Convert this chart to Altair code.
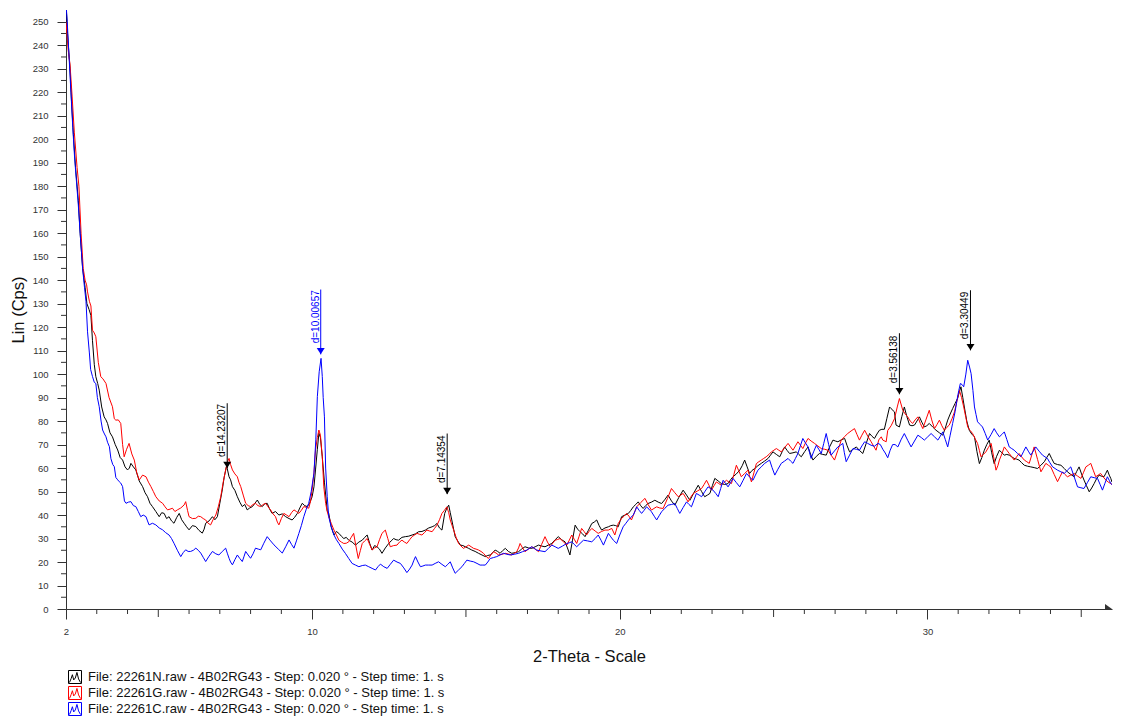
import altair as alt
import pandas as pd

FONT = "Liberation Sans"

series_names = [
    "File: 22261N.raw - 4B02RG43 - Step: 0.020 ° - Step time: 1. s",
    "File: 22261G.raw - 4B02RG43 - Step: 0.020 ° - Step time: 1. s",
    "File: 22261C.raw - 4B02RG43 - Step: 0.020 ° - Step time: 1. s",
]
series_colors = ["#000000", "#ff0000", "#0000ff"]

black_pts = [(2.00,258),(2.05,245),(2.13,230),(2.18,216),(2.24,202),(2.31,188),(2.40,174),(2.46,160),(2.54,145),(2.62,137),(2.68,130),(2.75,127.5),(2.81,125),(2.86,114.4),(2.92,104),(2.97,98.9),(3.03,96),(3.08,93.2),(3.16,86),(3.24,81.8),(3.30,80.5),(3.35,79),(3.43,75),(3.51,73.3),(3.60,70),(3.68,67.7),(3.76,64.5),(3.84,63.4),(3.92,60.5),(4.00,59.2),(4.06,60),(4.11,62),(4.19,60.5),(4.27,59.2),(4.38,54.5),(4.49,52.1),(4.57,49.5),(4.65,47.8),(4.73,45),(4.81,43.6),(4.92,41.5),(5.03,39.3),(5.11,41),(5.19,40.7),(5.27,38.5),(5.35,39.3),(5.43,37.5),(5.51,36.5),(5.60,39),(5.68,40.7),(5.76,38),(5.84,36.5),(5.92,35),(6.00,33.7),(6.11,35.5),(6.22,35.1),(6.32,33.5),(6.43,32.3),(6.49,34),(6.54,36.5),(6.65,37.5),(6.76,39.3),(6.84,38),(6.92,39.3),(7.00,45),(7.08,50.7),(7.14,56),(7.22,61),(7.30,56.3),(7.35,55),(7.41,52.1),(7.49,50.5),(7.57,47.8),(7.65,45.5),(7.73,43.6),(7.81,44.5),(7.89,42.2),(7.97,43),(8.06,43.6),(8.14,45),(8.22,46.4),(8.30,44.5),(8.38,43.6),(8.46,44.8),(8.54,45),(8.62,42.5),(8.70,40.7),(8.81,41.5),(8.92,40),(9.03,40.5),(9.14,39.3),(9.25,38.5),(9.35,37.9),(9.43,39),(9.52,40.7),(9.60,43),(9.68,45),(9.76,44),(9.84,43.6),(9.92,45),(10.00,47.8),(10.06,52),(10.11,59.2),(10.17,68),(10.22,74.8),(10.27,73),(10.33,64.8),(10.40,54),(10.49,42),(10.54,40.7),(10.62,35),(10.71,31.5),(10.79,33),(10.87,32.2),(10.95,31),(11.03,30),(11.11,30.5),(11.19,29.3),(11.30,28.5),(11.41,27.2),(11.52,28.5),(11.63,29.3),(11.71,30.5),(11.79,31.5),(11.87,28),(11.95,25.1),(12.03,27),(12.11,26.5),(12.19,25.5),(12.27,23.7),(12.38,26),(12.49,27.9),(12.57,29),(12.65,30),(12.73,29.5),(12.81,29.3),(12.92,30.5),(13.03,30.8),(13.14,31),(13.25,31.5),(13.36,32),(13.46,32.9),(13.57,33),(13.68,33.6),(13.79,34.5),(13.90,35),(13.98,35.5),(14.06,36.4),(14.14,34.5),(14.22,33.6),(14.31,40.7),(14.38,43),(14.44,44.2),(14.49,41),(14.54,37.9),(14.60,34),(14.65,30.8),(14.73,29),(14.82,27.2),(14.90,27),(14.98,26.5),(15.09,25.8),(15.19,25.1),(15.30,24.5),(15.41,23.7),(15.52,23),(15.63,22.3),(15.71,22.8),(15.79,23),(15.87,24),(15.95,25.1),(16.03,24.5),(16.11,23.7),(16.19,24.8),(16.28,25.8),(16.38,24.5),(16.49,23.7),(16.60,24),(16.71,24.4),(16.81,25.5),(16.92,26.5),(17.03,26),(17.14,25.8),(17.25,26.5),(17.36,27.2),(17.46,26.8),(17.57,26.5),(17.68,27.2),(17.79,27.9),(17.90,29.5),(18.00,30.8),(18.11,29.5),(18.22,28.6),(18.30,26),(18.38,23),(18.46,29),(18.55,35.7),(18.63,34),(18.71,32.9),(18.79,32),(18.87,30.8),(18.98,33.5),(19.09,36.4),(19.17,37),(19.25,37.9),(19.33,35.5),(19.41,33.6),(19.52,34.5),(19.63,35),(19.71,35.5),(19.79,35.7),(19.87,35.5),(19.95,35),(20.06,39.3),(20.17,40),(20.28,40.7),(20.36,42),(20.44,43.5),(20.52,44.5),(20.60,45.6),(20.68,44),(20.76,42.8),(20.84,44),(20.92,44.9),(21.03,45.5),(21.14,46.3),(21.25,45.5),(21.36,44.9),(21.46,46.5),(21.57,48.5),(21.68,46),(21.79,44.2),(21.92,47.5),(22.06,50.6),(22.17,48.5),(22.28,46.3),(22.41,49.5),(22.55,52.7),(22.66,50),(22.76,47.8),(22.85,48.5),(22.93,49.2),(23.01,52.5),(23.09,55.6),(23.20,54.5),(23.30,53.4),(23.41,53),(23.52,53.4),(23.60,55),(23.68,56.3),(23.79,57.5),(23.90,59.1),(23.98,61),(24.06,63.4),(24.14,60.5),(24.22,57.7),(24.30,59),(24.39,59.8),(24.49,61),(24.60,62),(24.71,63),(24.82,64.1),(24.90,65.5),(24.98,66.9),(25.09,65.8),(25.20,64.8),(25.28,67),(25.36,69),(25.44,67.5),(25.52,66.2),(25.63,66.5),(25.74,66.9),(25.82,65.8),(25.90,64.8),(26.01,67),(26.12,69),(26.20,66),(26.28,63.4),(26.39,65),(26.49,66.2),(26.60,65.8),(26.71,65.5),(26.82,69),(26.93,71.9),(27.01,71.5),(27.09,71.2),(27.20,72),(27.31,72.6),(27.39,69.5),(27.47,66.9),(27.58,68),(27.69,69),(27.79,67.5),(27.90,66.2),(28.01,70.5),(28.12,74.7),(28.20,73.5),(28.28,72.6),(28.36,74.5),(28.44,76.1),(28.52,76.5),(28.60,76.5),(28.68,81),(28.77,86),(28.82,85.3),(28.93,83.9),(28.98,78.3),(29.09,77.5),(29.17,82),(29.25,86),(29.33,82),(29.42,78.3),(29.50,78),(29.58,78.3),(29.66,80),(29.74,81.8),(29.82,79.5),(29.90,77.5),(29.98,78),(30.06,79),(30.17,77.5),(30.28,76.1),(30.39,75),(30.50,74),(30.58,77),(30.66,80.4),(30.74,83),(30.82,85.3),(30.90,87.5),(30.98,89.6),(31.04,92.5),(31.09,94.6),(31.15,90),(31.20,86),(31.28,80),(31.36,76.1),(31.44,74.5),(31.53,73.3),(31.61,67),(31.69,61.9),(31.77,64.5),(31.85,67.6),(31.93,70),(32.01,71.9),(32.09,66.5),(32.17,61.9),(32.25,65),(32.34,67.6),(32.42,66.5),(32.50,65.5),(32.58,65.8),(32.66,65.5),(32.74,64.8),(32.82,64.1),(32.90,63.8),(32.98,63.4),(33.06,62.3),(33.15,61.2),(33.25,60.8),(33.36,60.5),(33.47,60.2),(33.58,59.8),(33.69,61.2),(33.80,62.7),(33.88,64.5),(33.96,66.2),(34.04,64),(34.12,62),(34.23,61.5),(34.34,61.2),(34.45,59.8),(34.55,58.4),(34.66,57.3),(34.77,56.3),(34.85,58.5),(34.93,60.5),(35.01,57.5),(35.09,54.9),(35.17,52.5),(35.26,49.9),(35.34,51.5),(35.42,53.4),(35.50,55.5),(35.58,57),(35.66,56.5),(35.74,56.3),(35.80,57.8),(35.85,59.1),(35.91,57),(35.96,55.6),(36.00,54)]

red_pts = [(2.00,250),(2.07,238),(2.13,232),(2.20,218),(2.27,203),(2.36,188),(2.42,180),(2.49,160),(2.56,145),(2.62,140),(2.67,138),(2.70,135),(2.76,131),(2.81,129),(2.86,118.7),(2.92,117.5),(2.97,115.9),(3.05,105),(3.13,98.9),(3.20,98),(3.30,96),(3.40,90),(3.51,86.1),(3.57,81),(3.62,80.4),(3.70,80.5),(3.78,79),(3.84,70),(3.89,64.8),(3.97,68),(4.05,70.5),(4.14,66),(4.22,63.4),(4.30,58),(4.38,54.9),(4.49,57),(4.60,56.3),(4.68,54),(4.76,52.1),(4.84,50),(4.92,47.8),(5.03,46),(5.14,45),(5.22,43.5),(5.30,42.2),(5.38,42.5),(5.46,42.9),(5.54,41.5),(5.62,42.2),(5.73,43),(5.84,44.3),(5.89,45.7),(5.95,42),(6.00,39.3),(6.11,38.5),(6.22,38.6),(6.30,39.5),(6.38,39.3),(6.46,38.5),(6.54,37.9),(6.62,36.5),(6.70,35.8),(6.78,38),(6.87,40),(6.95,43.5),(7.03,47.8),(7.11,54),(7.19,59.2),(7.26,63),(7.30,64.1),(7.35,61.5),(7.41,59.2),(7.49,57.5),(7.57,56.3),(7.62,54),(7.68,52.1),(7.76,48.5),(7.84,45),(7.92,44),(8.00,43.6),(8.08,44.5),(8.16,45),(8.24,44),(8.33,43.6),(8.41,44.5),(8.49,45),(8.57,43.5),(8.65,42.2),(8.73,40.5),(8.81,39.3),(8.87,37),(8.92,35.8),(9.00,38.5),(9.08,40.7),(9.17,40),(9.25,39.3),(9.33,41),(9.41,42.2),(9.49,41.5),(9.57,40.7),(9.65,42),(9.73,43.6),(9.81,43.3),(9.89,42.9),(9.95,46),(10.00,50.7),(10.06,58),(10.11,67.7),(10.17,73),(10.22,76.2),(10.27,74),(10.33,64.8),(10.38,52),(10.44,45),(10.49,41.5),(10.54,39.3),(10.62,36.5),(10.71,33.6),(10.79,31.5),(10.87,29.3),(10.95,28.5),(11.03,27.9),(11.11,28),(11.19,28.6),(11.27,30.5),(11.35,32.2),(11.42,27),(11.50,21.5),(11.57,25),(11.63,27.9),(11.71,29),(11.79,30),(11.87,27.5),(11.95,25.1),(12.03,26),(12.11,26.5),(12.19,29.5),(12.27,32.2),(12.38,33.6),(12.46,30),(12.54,26.5),(12.65,27),(12.76,27.2),(12.84,28.5),(12.92,29.3),(13.00,28.5),(13.08,27.9),(13.17,29.5),(13.25,30.8),(13.33,31.5),(13.41,32.2),(13.49,31.8),(13.57,31.5),(13.65,32.5),(13.73,33.6),(13.82,33.2),(13.90,32.9),(13.98,34.3),(14.06,35.7),(14.14,38),(14.22,40.7),(14.30,42),(14.38,43.5),(14.44,41),(14.49,37.9),(14.55,35.5),(14.60,33.6),(14.68,30.5),(14.76,27.9),(14.84,26.8),(14.92,25.8),(15.00,26.5),(15.09,27.2),(15.17,26.5),(15.25,25.8),(15.33,25.5),(15.41,25.1),(15.49,24.5),(15.57,23.7),(15.65,22.5),(15.73,21.5),(15.81,23),(15.90,24.4),(15.98,23.8),(16.06,23),(16.17,23.3),(16.28,23.7),(16.38,23.4),(16.49,23),(16.57,23.7),(16.65,24.4),(16.71,26),(16.76,27.9),(16.84,26),(16.92,24.4),(17.03,25.5),(17.14,26.5),(17.25,25.5),(17.36,24.4),(17.46,27.5),(17.57,30.8),(17.65,28.5),(17.74,26.5),(17.82,28),(17.90,29.3),(17.98,29.6),(18.06,30),(18.17,28.6),(18.28,27.2),(18.36,29.3),(18.44,31.5),(18.52,29.7),(18.60,27.9),(18.68,31),(18.76,34.3),(18.84,33),(18.92,31.5),(19.00,33),(19.09,34.3),(19.20,33.2),(19.30,32.2),(19.41,33),(19.52,33.6),(19.63,33.6),(19.74,34.3),(19.84,31.5),(19.95,36.4),(20.06,38.6),(20.14,39.5),(20.22,40.7),(20.30,39.5),(20.38,37.9),(20.46,40.5),(20.55,43.5),(20.68,45.3),(20.82,47.1),(20.92,44.5),(21.03,42.1),(21.11,42.8),(21.20,43.5),(21.30,43),(21.41,42.8),(21.55,47),(21.68,51.3),(21.79,49.5),(21.90,47.8),(21.98,48.5),(22.06,49.2),(22.14,47.5),(22.22,45.6),(22.30,47.5),(22.39,49.2),(22.52,50.2),(22.66,51.3),(22.74,53),(22.82,54.8),(22.90,52.7),(22.98,50.6),(23.06,52.4),(23.14,54.1),(23.22,53.4),(23.30,52.7),(23.38,53.8),(23.47,54.8),(23.55,54),(23.63,53.4),(23.71,57.3),(23.79,61.2),(23.87,58.8),(23.95,56.3),(24.06,57.7),(24.17,59.1),(24.22,56.5),(24.28,54.1),(24.36,58),(24.44,61.9),(24.52,62.7),(24.60,63.4),(24.68,64.1),(24.76,64.8),(24.85,65.8),(24.93,66.9),(25.01,67.6),(25.09,68.3),(25.17,67.6),(25.25,66.9),(25.36,68.7),(25.47,70.5),(25.55,69),(25.63,67.6),(25.71,69.4),(25.79,71.2),(25.87,69.8),(25.95,68.3),(26.03,70.5),(26.12,72.6),(26.22,71.5),(26.33,70.5),(26.44,69.4),(26.55,68.3),(26.66,68),(26.77,67.6),(26.87,65.5),(26.98,63.4),(27.09,67.6),(27.20,71.9),(27.30,73.3),(27.41,74.7),(27.52,75.8),(27.63,76.8),(27.71,74.3),(27.79,71.9),(27.87,74),(27.96,76.1),(28.06,73.6),(28.17,71.2),(28.25,69.4),(28.33,67.6),(28.42,72),(28.50,73.3),(28.55,71.9),(28.66,71.2),(28.71,76),(28.82,78),(28.93,81),(29.02,86),(29.09,89.6),(29.20,84.6),(29.28,83),(29.36,81.8),(29.44,80),(29.52,79),(29.60,80.5),(29.69,81.8),(29.77,79),(29.85,76.8),(29.95,80.5),(30.06,84.6),(30.14,80.5),(30.23,76.8),(30.31,78.5),(30.39,80.4),(30.47,78),(30.55,76.1),(30.63,77.3),(30.71,78.3),(30.80,81),(30.88,83.9),(30.96,88.5),(31.04,93.1),(31.11,90),(31.18,86),(31.25,81.5),(31.31,77.5),(31.39,76),(31.47,74.7),(31.55,72.5),(31.63,70.5),(31.69,67.5),(31.74,64.8),(31.82,65.8),(31.90,66.9),(31.98,68.7),(32.07,70.5),(32.15,65),(32.23,59.1),(32.29,61),(32.34,63.4),(32.42,66),(32.50,69),(32.58,67.6),(32.66,66.2),(32.74,64.8),(32.82,63.4),(32.90,64.8),(32.98,66.2),(33.06,64.8),(33.15,63.4),(33.23,62.7),(33.31,62),(33.39,65.5),(33.47,69),(33.58,63.7),(33.69,58.4),(33.77,60.2),(33.85,62),(33.93,61.2),(34.01,60.5),(34.12,57.3),(34.23,54.2),(34.31,56.3),(34.39,58.4),(34.47,57.3),(34.55,56.3),(34.66,57),(34.77,57.7),(34.88,56.6),(34.99,55.6),(35.07,58),(35.15,60.5),(35.23,61.2),(35.31,62),(35.39,59.1),(35.47,56.3),(35.55,57),(35.63,57.7),(35.71,56.3),(35.80,54.9),(35.88,54),(35.96,53.4),(36.00,53)]

blue_pts = [(2.00,258),(2.04,250),(2.10,235),(2.16,220),(2.22,205),(2.28,192),(2.34,182),(2.40,172),(2.46,160),(2.54,145),(2.60,137),(2.65,131),(2.70,118),(2.76,109),(2.80,102),(2.86,99),(2.92,96.5),(2.97,96),(3.02,90),(3.08,86.1),(3.14,80),(3.19,76.2),(3.25,74.5),(3.30,73.3),(3.35,71),(3.41,69.1),(3.46,64),(3.52,61.5),(3.57,60.6),(3.62,56),(3.68,55),(3.73,54.2),(3.78,53.6),(3.84,52.1),(3.90,46),(3.95,45),(4.03,45.5),(4.11,45.7),(4.19,44),(4.27,43.6),(4.35,41.5),(4.43,39.3),(4.51,40),(4.60,39.3),(4.65,37.5),(4.70,35.8),(4.81,36.5),(4.92,35.8),(5.03,34.5),(5.14,33.7),(5.24,32.5),(5.35,31.5),(5.43,30),(5.51,28),(5.62,25),(5.73,22.3),(5.81,24),(5.89,25.2),(5.97,24.5),(6.05,24.5),(6.14,25),(6.22,25.9),(6.30,25),(6.38,23.8),(6.46,22),(6.54,20.2),(6.65,22.5),(6.76,24.5),(6.87,23.5),(6.97,23),(7.08,24.5),(7.19,25.9),(7.25,23.5),(7.30,21.6),(7.35,20),(7.41,18.8),(7.49,21),(7.57,23),(7.65,21.5),(7.73,20.2),(7.79,22.5),(7.84,24.5),(7.92,23),(8.00,21.6),(8.08,23.5),(8.16,25.9),(8.25,25.5),(8.33,25.2),(8.43,28),(8.54,30.8),(8.65,29),(8.76,27.3),(8.90,25.5),(9.03,23.8),(9.14,26.5),(9.25,29.4),(9.33,27.5),(9.41,25.9),(9.49,29),(9.57,32.2),(9.65,35.5),(9.73,39.3),(9.81,42.5),(9.89,45),(9.97,50),(10.06,57.8),(10.12,72),(10.17,90.4),(10.23,101),(10.29,106.7),(10.33,99),(10.36,90),(10.40,81.8),(10.44,60),(10.49,48),(10.54,39.3),(10.62,35),(10.71,31.5),(10.79,29.5),(10.87,27.9),(10.98,25.5),(11.08,23.7),(11.19,21.5),(11.30,19.4),(11.41,18.7),(11.52,18),(11.63,18.5),(11.73,18.7),(11.84,18),(11.95,17.3),(12.06,16.6),(12.14,18),(12.22,19.1),(12.33,18),(12.44,17.3),(12.54,19),(12.65,20.8),(12.76,20),(12.87,19.4),(12.98,17.5),(13.08,15.5),(13.17,17),(13.25,18.7),(13.30,20.5),(13.36,22.3),(13.44,20),(13.52,18),(13.60,18.3),(13.68,18.7),(13.79,18.7),(13.90,18.7),(14.00,19.4),(14.11,20.1),(14.22,19),(14.33,18),(14.41,19),(14.49,20.1),(14.57,17.5),(14.65,15.2),(14.76,16.6),(14.87,18),(14.95,19.4),(15.03,20.8),(15.14,20.4),(15.25,20.1),(15.36,19.4),(15.46,18.7),(15.55,18.7),(15.63,18.7),(15.71,20),(15.79,21.5),(15.90,21.9),(16.00,22.3),(16.11,23),(16.22,23.7),(16.33,23.3),(16.44,23),(16.57,23.3),(16.71,23.7),(16.84,24.4),(16.98,25.1),(17.06,25.8),(17.14,26.5),(17.22,25.8),(17.30,25.1),(17.44,24.7),(17.57,24.4),(17.68,25.8),(17.79,27.2),(17.90,26.5),(18.00,25.8),(18.14,26.8),(18.28,27.9),(18.36,28.2),(18.44,28.6),(18.52,27.5),(18.60,26.5),(18.71,27.9),(18.82,29.3),(18.95,29),(19.09,28.6),(19.20,30),(19.30,31.5),(19.39,29.3),(19.47,27.2),(19.55,29.7),(19.63,32.2),(19.71,30.7),(19.79,29.3),(19.90,27.9),(20.00,31.5),(20.11,35),(20.20,36.5),(20.28,37.9),(20.36,39),(20.44,40),(20.50,41.8),(20.55,43.5),(20.63,42),(20.71,40.7),(20.79,42),(20.87,43.5),(20.95,42.5),(21.03,41.4),(21.12,39.5),(21.20,37.9),(21.28,39.7),(21.36,41.4),(21.46,42.8),(21.57,44.2),(21.68,44.5),(21.79,44.9),(21.87,42.8),(21.95,40.7),(22.06,43.2),(22.17,45.6),(22.25,44.5),(22.33,43.5),(22.41,46.3),(22.49,49.2),(22.58,48.5),(22.66,47.8),(22.76,49.9),(22.87,52),(22.95,51.3),(23.03,50.6),(23.12,49.2),(23.20,47.8),(23.28,51.3),(23.36,54.8),(23.44,53.4),(23.52,52),(23.60,53.8),(23.68,55.6),(23.79,53.8),(23.90,52),(24.01,54.8),(24.12,57.7),(24.22,56.2),(24.33,54.8),(24.41,57),(24.49,59.1),(24.60,60.5),(24.71,62),(24.79,62.7),(24.87,63.4),(24.95,60.2),(25.04,57),(25.14,59.5),(25.25,62),(25.36,63),(25.47,64.1),(25.55,63),(25.63,62),(25.71,64.1),(25.79,66.2),(25.87,69.4),(25.95,72.6),(26.03,70.8),(26.12,69),(26.17,66.5),(26.22,64.1),(26.30,66.9),(26.39,69.7),(26.47,68),(26.55,66.2),(26.63,70.5),(26.71,74.7),(26.79,70),(26.87,65.5),(26.98,67.3),(27.09,69),(27.17,69.7),(27.25,70.5),(27.30,66.5),(27.36,62.7),(27.47,65.5),(27.58,68.3),(27.69,68),(27.79,67.6),(27.87,69.4),(27.96,71.2),(28.06,70.5),(28.17,69.7),(28.28,69.3),(28.39,70.5),(28.47,70),(28.55,68),(28.63,66.4),(28.71,64.4),(28.79,67.6),(28.87,70),(28.95,70),(29.04,69),(29.14,72),(29.25,74.7),(29.36,71.8),(29.47,69),(29.58,71.5),(29.69,74),(29.80,73),(29.90,71.9),(30.01,73.3),(30.12,74.7),(30.23,73.3),(30.34,71.9),(30.42,73.6),(30.50,75.4),(30.58,72.2),(30.66,69),(30.74,74),(30.82,79),(30.90,84),(30.96,88.9),(31.02,93),(31.07,96),(31.13,95.5),(31.18,94.6),(31.25,100),(31.31,105.9),(31.37,103),(31.42,100.2),(31.48,93),(31.53,86),(31.58,82.8),(31.63,79.7),(31.71,78.6),(31.79,77.5),(31.88,74.7),(31.96,71.9),(32.07,74.3),(32.17,76.8),(32.25,75),(32.34,73.3),(32.42,74.3),(32.50,75.4),(32.58,72.2),(32.66,69),(32.74,68.3),(32.82,67.6),(32.93,66.2),(33.04,64.8),(33.12,66.9),(33.20,69),(33.28,67.2),(33.36,65.5),(33.44,67.2),(33.52,69),(33.63,67.2),(33.74,65.5),(33.82,64.8),(33.90,64.1),(33.98,62.3),(34.07,60.5),(34.15,59.8),(34.23,59.1),(34.34,58.4),(34.45,57.7),(34.55,59.1),(34.66,60.5),(34.77,56.3),(34.88,52),(34.99,51.6),(35.09,51.3),(35.20,53.8),(35.31,56.3),(35.42,55.9),(35.53,55.6),(35.61,53.1),(35.69,50.6),(35.77,53.5),(35.85,56.3),(35.91,54.8),(35.96,53.4),(36.00,53)]

peak_labels = ["d=14.23207", "d=10.00657", "d=7.14354", "d=3.56138", "d=3.30449"]
peak_theta = [7.24, 10.28, 14.39, 29.09, 31.40]
peak_tip = [60.0, 108.4, 48.9, 91.4, 110.1]
peak_top = [87.6, 136.0, 74.7, 117.4, 135.7]
peak_colors = ["#000000", "#0000ff", "#000000", "#000000", "#000000"]

x_label_ticks = [2, 10, 20, 30]
x_mid_ticks = [5, 15, 25, 35]
x_minor_ticks = [v for v in range(3, 36) if v % 5 != 0]
y_label_ticks = list(range(0, 251, 10))
y_minor_ticks = list(range(5, 251, 10))

X_DOMAIN = [2, 36]
Y_DOMAIN = [0, 255]
W, H = 1046, 599

rows = []
for name, pts in zip(series_names, [black_pts, red_pts, blue_pts]):
    for i, (t, c) in enumerate(pts):
        rows.append({"theta": t, "cps": c, "series": name, "idx": i})
lines_df = pd.DataFrame(rows)

xs = alt.Scale(domain=X_DOMAIN, nice=False, zero=False)
ys = alt.Scale(domain=Y_DOMAIN, nice=False, zero=False)

x_axis = alt.Axis(
    values=x_label_ticks, tickSize=10, labelPadding=7.5, labelFontSize=9.5,
    labelFont=FONT, labelColor="#333", labelFlush=False, labelOverlap=False,
    format="d", grid=False, domainColor="#333", tickColor="#333",
    title="2-Theta - Scale", titleFont=FONT, titleFontSize=16.5,
    titleFontWeight="normal", titleColor="#111", titleY=47, titleBaseline="middle")
y_axis = alt.Axis(
    values=y_label_ticks, tickSize=9, labelPadding=9, labelFontSize=9.5,
    labelFont=FONT, labelColor="#333", labelFlush=False, labelOverlap=False,
    format="d", grid=False, domainColor="#333", tickColor="#333",
    title="Lin (Cps)", titleFont=FONT, titleFontSize=16.5, titleFontWeight="normal",
    titleColor="#111", titleX=-48, titleBaseline="middle")

legend_icon = ("M-1,-1H1V1H-1Z M-0.85,0.85L-0.6,0.25L-0.4,-0.35L-0.2,0.45L0.05,0.15"
               "L0.3,-0.7L0.55,0.3L0.85,0.85")

X = lambda f="theta:Q": alt.X(f, scale=xs, axis=x_axis)
Y = lambda f="cps:Q": alt.Y(f, scale=ys, axis=y_axis)

lines = alt.Chart(lines_df).mark_line(strokeWidth=1, clip=True).encode(
    x=X(), y=Y(),
    color=alt.Color("series:N", sort=series_names,
                    scale=alt.Scale(domain=series_names, range=series_colors),
                    legend=alt.Legend(title=None, orient="none", legendX=2, legendY=660,
                                      symbolType=legend_icon, symbolSize=169,
                                      symbolStrokeWidth=1, symbolFillColor="transparent",
                                      labelFont=FONT, labelFontSize=13, labelColor="#111",
                                      labelOffset=6, rowPadding=-4.5, padding=0,
                                      labelLimit=0)),
    order=alt.Order("idx:Q"),
)

xminor = alt.Chart(pd.DataFrame({"theta": x_minor_ticks})).mark_rule(
    color="#333", strokeWidth=1).encode(x=X(), y=alt.value(H), y2=alt.value(H + 5))
xmid = alt.Chart(pd.DataFrame({"theta": x_mid_ticks})).mark_rule(
    color="#333", strokeWidth=1).encode(x=X(), y=alt.value(H), y2=alt.value(H + 8))
yminor = alt.Chart(pd.DataFrame({"cps": y_minor_ticks})).mark_rule(
    color="#333", strokeWidth=1).encode(y=Y(), x=alt.value(-5), x2=alt.value(0))

axis_arrow = alt.Chart(pd.DataFrame({"theta": [X_DOMAIN[1]], "cps": [Y_DOMAIN[0]]})).mark_point(
    shape="M-1.75,-1.25L0,0L-1.75,0Z", filled=True, size=64, color="#333", opacity=1).encode(
    x=X(), y=Y())

peaks_df = pd.DataFrame({"theta": peak_theta, "cps": peak_tip, "cps2": peak_top,
                         "label": peak_labels, "col": peak_colors})
peaks_df["textpos"] = peaks_df["cps"] + 4.7

peak_rules = alt.Chart(peaks_df).mark_rule(strokeWidth=1).encode(
    x=X(), y=Y(), y2="cps2:Q", color=alt.Color("col:N", scale=None))
peak_arrows = alt.Chart(peaks_df).mark_point(
    shape="M-1,-1.6L1,-1.6L0,0Z", filled=True, size=64, opacity=1).encode(
    x=X(), y=Y(), color=alt.Color("col:N", scale=None))
peak_text = alt.Chart(peaks_df).mark_text(
    angle=270, align="left", baseline="bottom", font=FONT, fontSize=10).encode(
    x=X(), y=Y("textpos:Q"), text="label:N", color=alt.Color("col:N", scale=None))

chart = alt.layer(
    lines, xminor, xmid, yminor, peak_rules, peak_arrows, peak_text, axis_arrow
).properties(
    width=W, height=H,
    autosize=alt.AutoSizeParams(type="none"),
    padding={"left": 58, "top": 2, "right": 1, "bottom": 107},
    background="white",
).configure_view(stroke=None)

chart.save("out.html", embed_options={"renderer": "svg", "actions": False})
